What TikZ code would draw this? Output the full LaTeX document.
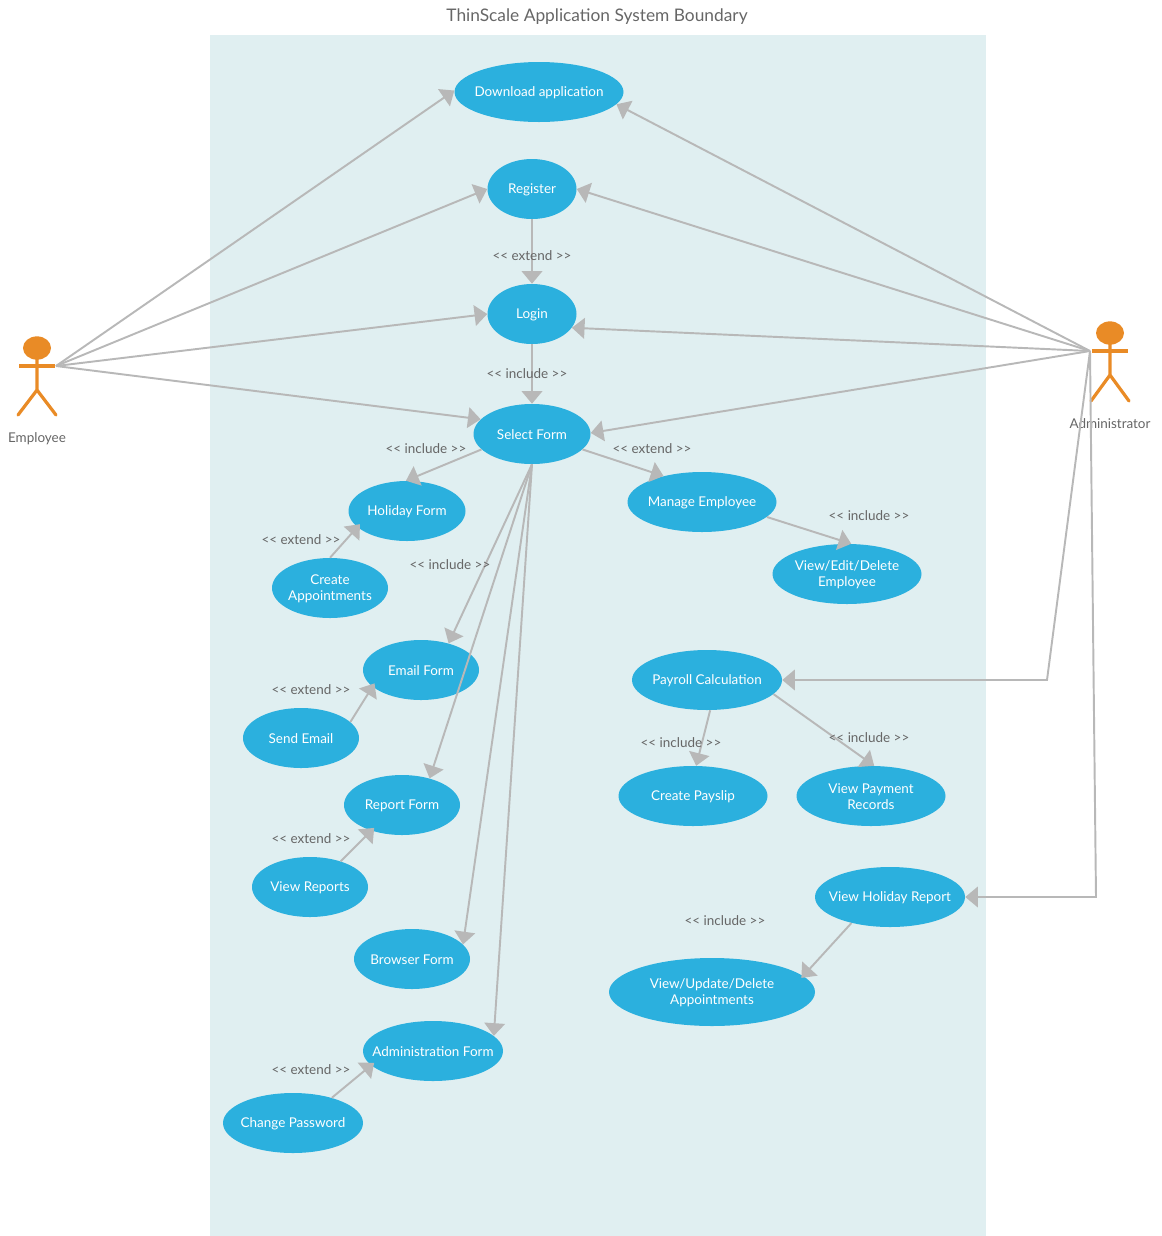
\documentclass[tikz,border=0pt]{standalone}
\usepackage{fontspec}
\setmainfont{Lato}
\usetikzlibrary{shapes.geometric,arrows.meta}
\definecolor{bgc}{HTML}{E0EFF1}
\definecolor{ucc}{HTML}{2BB0DE}
\definecolor{orc}{HTML}{E98B26}
\definecolor{lnc}{HTML}{B8B8B8}
\definecolor{txc}{HTML}{666666}
\tikzset{
  uctext/.style={text=white,font=\fontsize{10.1}{12.2}\selectfont,align=center,inner sep=0pt,yshift=-0.4pt},
  uc/.style n args={3}{ellipse,fill=ucc,inner sep=0pt,minimum width=#1*0.75pt-0.75pt,minimum height=#2*0.75pt,
     label={[uctext]center:{#3}}},
  tag/.style={text=txc,font=\fontsize{10.1}{12}\selectfont,inner sep=0pt,yshift=-0.6pt},
  conn/.style={draw=lnc,line width=1.45pt,-{Triangle[length=9.5pt,width=15.5pt,fill=lnc]}},
  deep/.style={shorten >=-3pt},
  limb/.style={draw=orc,line width=2.4pt,line cap=round},
  arm/.style={draw=orc,line width=2.5pt},
  head/.style={ellipse,fill=orc,inner sep=0pt,minimum width=21pt,minimum height=17.5pt}
}
\begin{document}
\begin{tikzpicture}[x=0.75pt,y=-0.75pt]
\useasboundingbox (0,0) rectangle (1161,1236);
\fill[bgc] (210,35) rectangle (986,1236);
\node[text=txc,font=\fontsize{13}{15}\selectfont,inner sep=0pt] (title) at (597,16.5) {ThinScale Application System Boundary};

% use cases
\node[uc={170}{60}{Download application}] (dl) at (539,92) {};
\node[uc={90}{60}{Register}] (reg) at (532,189) {};
\node[uc={90}{60}{Login}] (log) at (532,314) {};
\node[uc={118}{60}{Select Form}] (sel) at (532,434) {};
\node[uc={118}{60}{Holiday Form}] (hol) at (407,511) {};
\node[uc={117}{60}{Create\\Appointments}] (cap) at (330,588) {};
\node[uc={117}{60}{Email Form}] (eml) at (421,670) {};
\node[uc={117}{60}{Send Email}] (snd) at (301,738) {};
\node[uc={117}{60}{Report Form}] (rep) at (402,805) {};
\node[uc={117}{60}{View Reports}] (vrp) at (310,887) {};
\node[uc={117}{60}{Browser Form}] (brw) at (412,959) {};
\node[uc={141}{60}{Administration Form}] (adf) at (433,1051) {};
\node[uc={141}{60}{Change Password}] (chg) at (293,1123) {};
\node[uc={150}{60}{Manage Employee}] (mng) at (702,502) {};
\node[uc={150}{60}{View/Edit/Delete\\Employee}] (ved) at (847,574) {};
\node[uc={151}{60}{Payroll Calculation}] (pay) at (707,680) {};
\node[uc={150}{60}{Create Payslip}] (psl) at (693,796) {};
\node[uc={150}{60}{View Payment\\Records}] (vpr) at (871,796) {};
\node[uc={151}{60}{View Holiday Report}] (vhr) at (890,897) {};
\node[uc={207}{68}{View/Update/Delete\\Appointments}] (vud) at (712,992) {};

% actors
\node[head] (ehead) at (37,348) {};
\coordinate (eneck) at (37,358);
\coordinate (ehand) at (56,366);
\coordinate (ehandr) at (55,366);
\coordinate (ehandl) at (19,366);
\coordinate (ehip) at (37,390);
\coordinate (elegl) at (18,415);
\coordinate (elegr) at (56,415);
\draw[limb] (eneck) -- (ehip) (elegl) -- (ehip) -- (elegr);
\draw[arm] (ehandl) -- (ehandr);
\node[tag] (elabel) at (37,438) {Employee};

\node[head] (ahead) at (1110,333) {};
\coordinate (aneck) at (1110,343);
\coordinate (ahand) at (1128,351);
\coordinate (ahandl) at (1092,351);
\coordinate (astart) at (1090,351);
\coordinate (ahip) at (1110,375);
\coordinate (alegl) at (1091,401);
\coordinate (alegr) at (1129,401);
\draw[limb] (aneck) -- (ahip) (alegl) -- (ahip) -- (alegr);
\draw[arm] (ahandl) -- (ahand);
\node[tag] (alabel) at (1110,423) {Administrator};

\coordinate (abendp) at (1047,680);
\coordinate (abendh) at (1096,897);

% connectors
\draw[conn] (ehand) -- (dl.179);
\draw[conn] (ehand) -- (reg.180);
\draw[conn] (ehand) -- (log.180);
\draw[conn] (ehand) -- (sel.164);
\draw[conn] (astart) -- (dl.-9);
\draw[conn] (astart) -- (reg.0);
\draw[conn] (astart) -- (log.-19);
\draw[conn] (astart) -- (sel.1);
\draw[conn] (astart) -- (abendp) -- (pay.0);
\draw[conn] (astart) -- (abendh) -- (vhr.0);
\draw[conn] (reg.south) -- (log.north);
\draw[conn] (log.south) -- (sel.north);
\draw[conn] (sel.197) -- (hol.92);
\draw[conn] (sel.-17) -- (mng.146);
\draw[conn] (sel.south) -- (eml.44);
\draw[conn] (sel.south) -- (rep.44);
\draw[conn] (sel.south) -- (brw.16);
\draw[conn] (sel.south) -- (adf.14);
\draw[conn,deep] (cap.north) -- (hol.198);
\draw[conn,deep] (snd.18) -- (eml.199);
\draw[conn,deep] (vrp.40) -- (rep.220);
\draw[conn,deep] (chg.33) -- (adf.193);
\draw[conn] (mng.-13) -- (ved.82);
\draw[conn] (pay.-84) -- (psl.84);
\draw[conn] (pay.-12) -- (vpr.84);
\draw[conn,shorten >=-2pt] (vhr.214) -- (vud.10);

% stereotype labels
\node[tag] (t1) at (532,255) {<{}< extend >{}>};
\node[tag] (t2) at (527,373) {<{}< include >{}>};
\node[tag] (t3) at (426,448) {<{}< include >{}>};
\node[tag] (t4) at (652,448) {<{}< extend >{}>};
\node[tag] (t5) at (301,539) {<{}< extend >{}>};
\node[tag] (t6) at (450,564) {<{}< include >{}>};
\node[tag] (t7) at (311,689) {<{}< extend >{}>};
\node[tag] (t8) at (311,838) {<{}< extend >{}>};
\node[tag] (t9) at (311,1069) {<{}< extend >{}>};
\node[tag] (t10) at (869,515) {<{}< include >{}>};
\node[tag] (t11) at (681,742) {<{}< include >{}>};
\node[tag] (t12) at (869,737) {<{}< include >{}>};
\node[tag] (t13) at (725,920) {<{}< include >{}>};
\end{tikzpicture}
\end{document}
